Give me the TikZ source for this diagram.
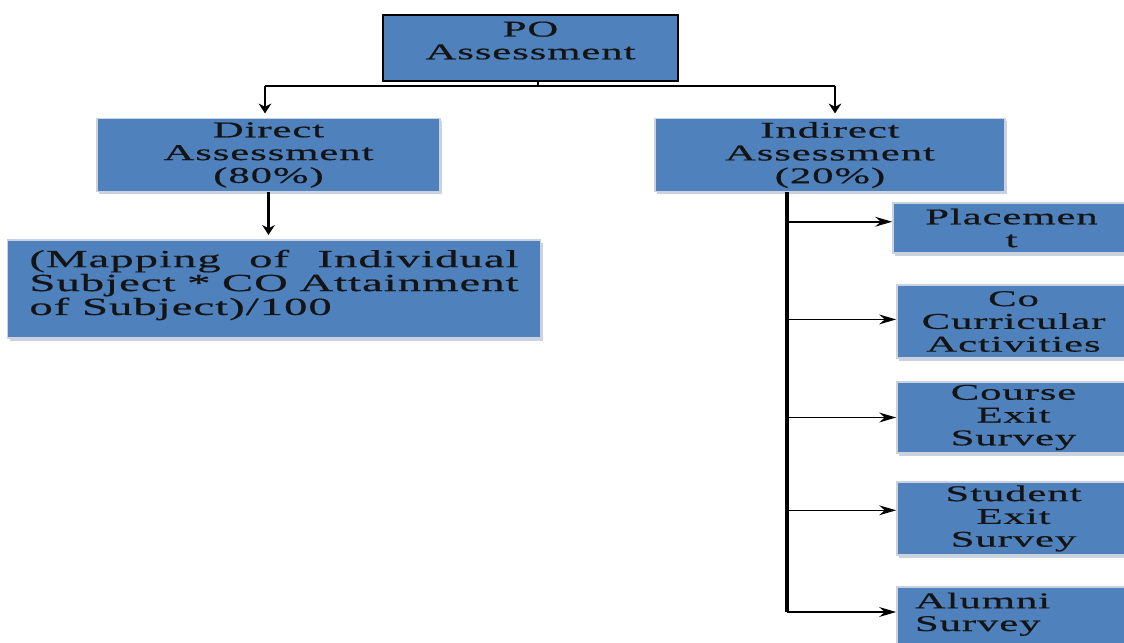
\documentclass[tikz,border=0pt]{standalone}
\usepackage{fontspec}
\setmainfont{Liberation Serif}[FakeStretch=1.9,LetterSpace=4,FakeBold=0.6]
\usetikzlibrary{arrows.meta}
\definecolor{boxblue}{HTML}{4F81BD}
\definecolor{rimgray}{HTML}{C9D2DE}
\definecolor{ink}{HTML}{141414}
\newcommand{\gap}{\hspace{0pt plus 1fill}}
\begin{document}
\begin{tikzpicture}[x=0.025cm,y=-0.025cm,
  box/.style={fill=boxblue, draw=rimgray, line width=1.2pt,
    preaction={fill=rimgray, transform canvas={shift={(1.5pt,-2pt)}}},
    inner sep=0pt, align=center, text=ink,
    font=\fontsize{16}{16.2}\selectfont},
  pobox/.style={fill=boxblue, draw=black, line width=1.2pt,
    inner sep=0pt, align=center, text=ink,
    font=\fontsize{16}{16.2}\selectfont},
  tick/.style={draw=black, line width=1pt},
  topline/.style={draw=black, line width=1.4pt},
  down/.style={draw=black, line width=1.6pt, -{Stealth[length=7pt,width=9pt]}, shorten >=3pt},
  trunk/.style={draw=black, line width=2.4pt},
  branch/.style={draw=black, line width=1.1pt, -{Stealth[length=12pt,width=7pt]}}
]
\useasboundingbox (0,0) rectangle (1124,643);
\clip (0,0) rectangle (1124,643);

% boxes
\node[pobox, minimum width=7.375cm, minimum height=1.65cm] (po) at (530.5,48) {\\[-20pt]PO\\Assessment};
\node[box, minimum width=8.575cm, minimum height=1.825cm] (direct) at (268.5,155) {Direct\\Assessment\\(80\%)};
\node[box, minimum width=8.75cm, minimum height=1.825cm] (indirect) at (830,155) {Indirect\\Assessment\\(20\%)};
\node[box, minimum width=13.325cm, font=\fontsize{17.5}{17}\selectfont] (mapping) at (274,289)
  {\parbox[c][2.45cm][t]{12.225cm}{\vspace{7pt}%
   \makebox[12.225cm][l]{(Mapping\gap of\gap Individual}\\
   \makebox[12.225cm][l]{Subject\gap *\gap CO\gap Attainment}\\
   of Subject)/100}};
\node[box, minimum width=5.925cm, minimum height=1.25cm] (placement) at (1011.5,228) {Placemen\\t};
\node[box, minimum width=5.825cm, minimum height=1.825cm] (cocurr) at (1013.5,321.5) {Co\\Curricular\\Activities};
\node[box, minimum width=5.825cm, minimum height=1.775cm] (course) at (1013.5,417.5) {Course\\Exit\\Survey};
\node[box, minimum width=5.825cm, minimum height=1.825cm] (student) at (1013.5,518.5) {Student\\Exit\\Survey};
\node[box] (alumni) at (1013.5,619)
  {\parbox[c][1.6cm][t]{5.825cm}{\vspace{4pt}\raggedright\leftskip=0.45cm Alumni\\Survey}};

% connectors from the top box
\coordinate (jn) at (538,86);
\coordinate (jl) at (265,86);
\coordinate (jr) at (835,86);
\draw[tick] (jn |- po.south) -- (jn);
\draw[topline] (jl) -- (jr);
\draw[down] (jl) -- (jl |- direct.north);
\draw[down] (jr) -- (jr |- indirect.north);
\draw[down, line width=2.2pt] (direct.south) -- (direct.south |- mapping.north);

% indirect branches
\coordinate (trunkend) at (787,612);
\draw[trunk] (indirect.south -| trunkend) -- (trunkend);
\draw[branch] (trunkend |- placement.177) -- (placement.177);
\draw[branch] (trunkend |- cocurr.179) -- (cocurr.179);
\draw[branch] (trunkend |- course.west) -- (course.west);
\draw[branch] (trunkend |- student.176) -- (student.176);
\draw[branch] (trunkend) -- (trunkend -| alumni.west);
\end{tikzpicture}
\end{document}
